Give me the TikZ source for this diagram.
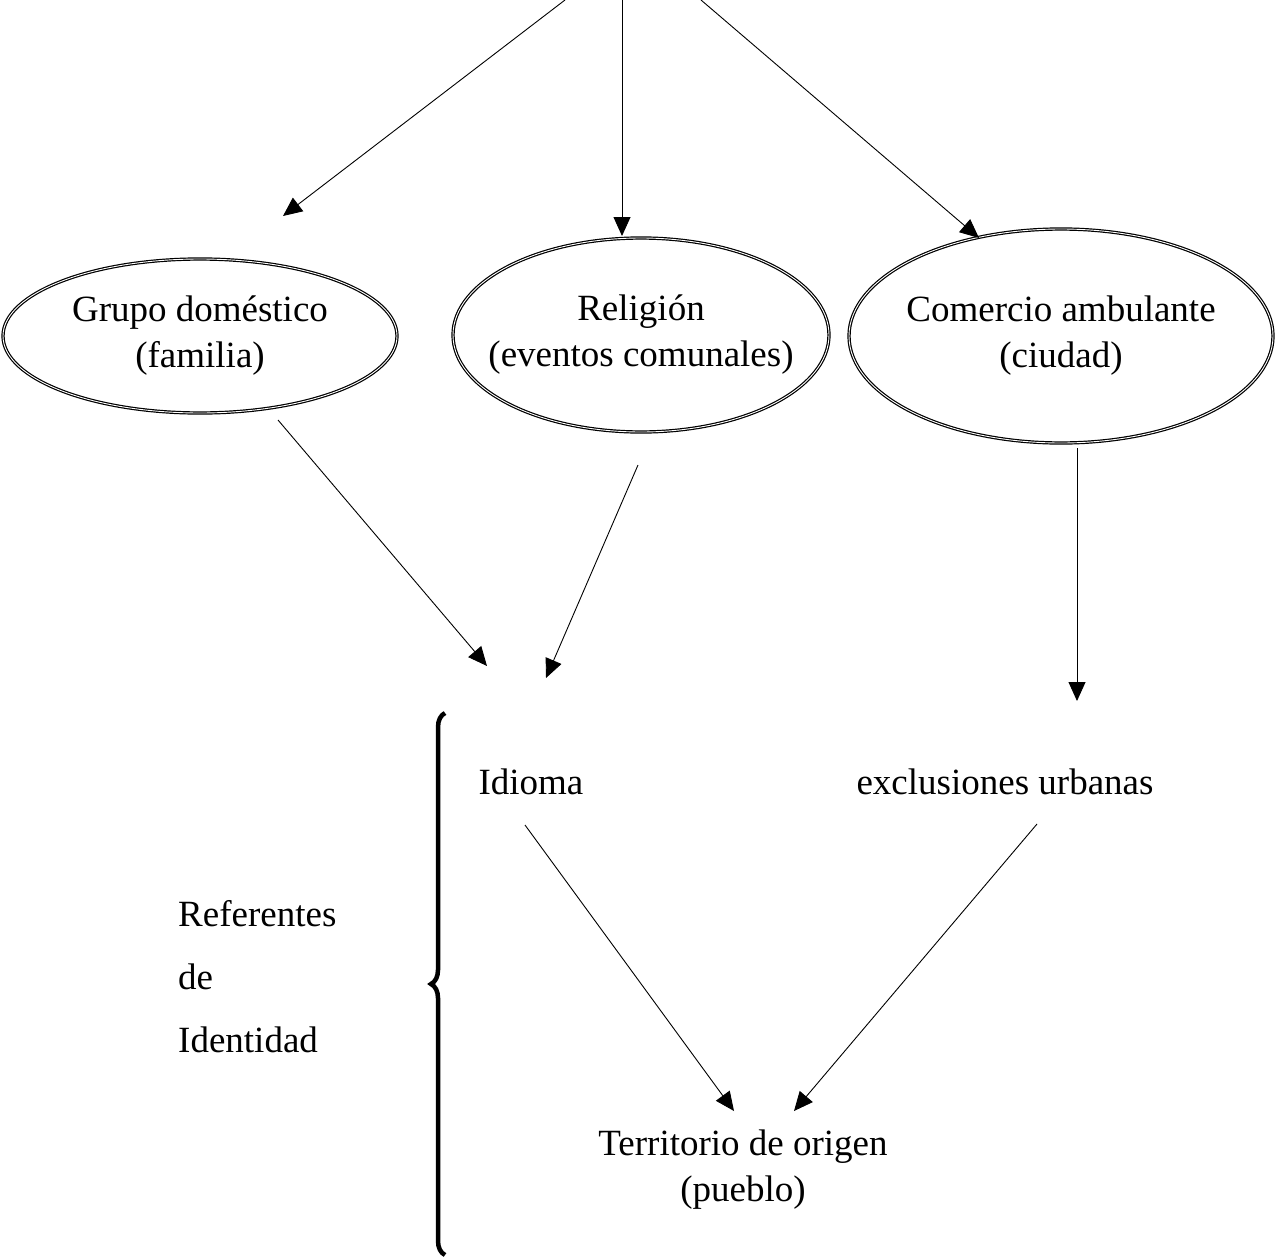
\documentclass[tikz,border=0pt]{standalone}
\usepackage{fontspec}
\setmainfont{Liberation Serif}
\usepackage{tikz}
\usetikzlibrary{shapes.geometric,arrows.meta,decorations.pathreplacing}

\tikzset{
  ambito/.style={ellipse, draw, double, line width=1.2pt, double distance=0.9pt, inner sep=0pt},
  flecha/.style={line width=0.9pt, -{Triangle[length=19pt,width=17pt]}},
  texto/.style={inner sep=0pt, align=center}
}

\begin{document}
\begin{tikzpicture}[x=1pt, y=-1pt, font=\fontsize{37}{46}\selectfont]
	\useasboundingbox (0,0) rectangle (1285,1258);
	% ambitos
	\node[ambito, minimum width=394pt, minimum height=154pt] (grupo) at (200,336) {};
	\node[ambito, minimum width=376pt, minimum height=194pt] (religion) at (641,335) {};
	\node[ambito, minimum width=424pt, minimum height=214pt] (comercio) at (1061,336) {};
	\node[texto] at (grupo) {Grupo doméstico\\(familia)};
	\node[texto] at (religion) {Religión\\(eventos comunales)};
	\node[texto] at (comercio) {Comercio ambulante\\(ciudad)};
	% referentes
	\node[texto] (idioma) at (531,782) {Idioma};
	\node[texto] (exclusiones) at (1005,782) {exclusiones urbanas};
	\node[texto] (territorio) at (743,1170) {Territorio de origen\\(pueblo)};
	\node[texto, align=left, anchor=west] (referentes) at (178,977) {Referentes\\[17pt]de\\[17pt]Identidad};
	% puntos de las flechas
	\coordinate (o1) at (565,0);
	\coordinate (o2) at (622,0);
	\coordinate (o3) at (701,0);
	\coordinate (g1) at (283,216);
	\coordinate (r1) at (622,236);
	\coordinate (c1) at (979,238);
	\coordinate (g2) at (278,420);
	\coordinate (r2) at (638,465);
	\coordinate (c2) at (1077,448);
	\coordinate (i1) at (487,666);
	\coordinate (i2) at (546,678);
	\coordinate (e1) at (1077,701);
	\coordinate (i3) at (525,825);
	\coordinate (e2) at (1037,824);
	\coordinate (t1) at (734,1111);
	\coordinate (t2) at (794,1111);
	\draw[flecha] (o1) -- (g1);
	\draw[flecha] (o2) -- (r1);
	\draw[flecha] (o3) -- (c1);
	\draw[flecha] (g2) -- (i1);
	\draw[flecha] (r2) -- (i2);
	\draw[flecha] (c2) -- (e1);
	\draw[flecha] (i3) -- (t1);
	\draw[flecha] (e2) -- (t2);
	% llave
	\draw[line width=4.5pt, decorate, decoration={brace, amplitude=14pt}] (445,1255) -- (445,713);
\end{tikzpicture}
\end{document}
